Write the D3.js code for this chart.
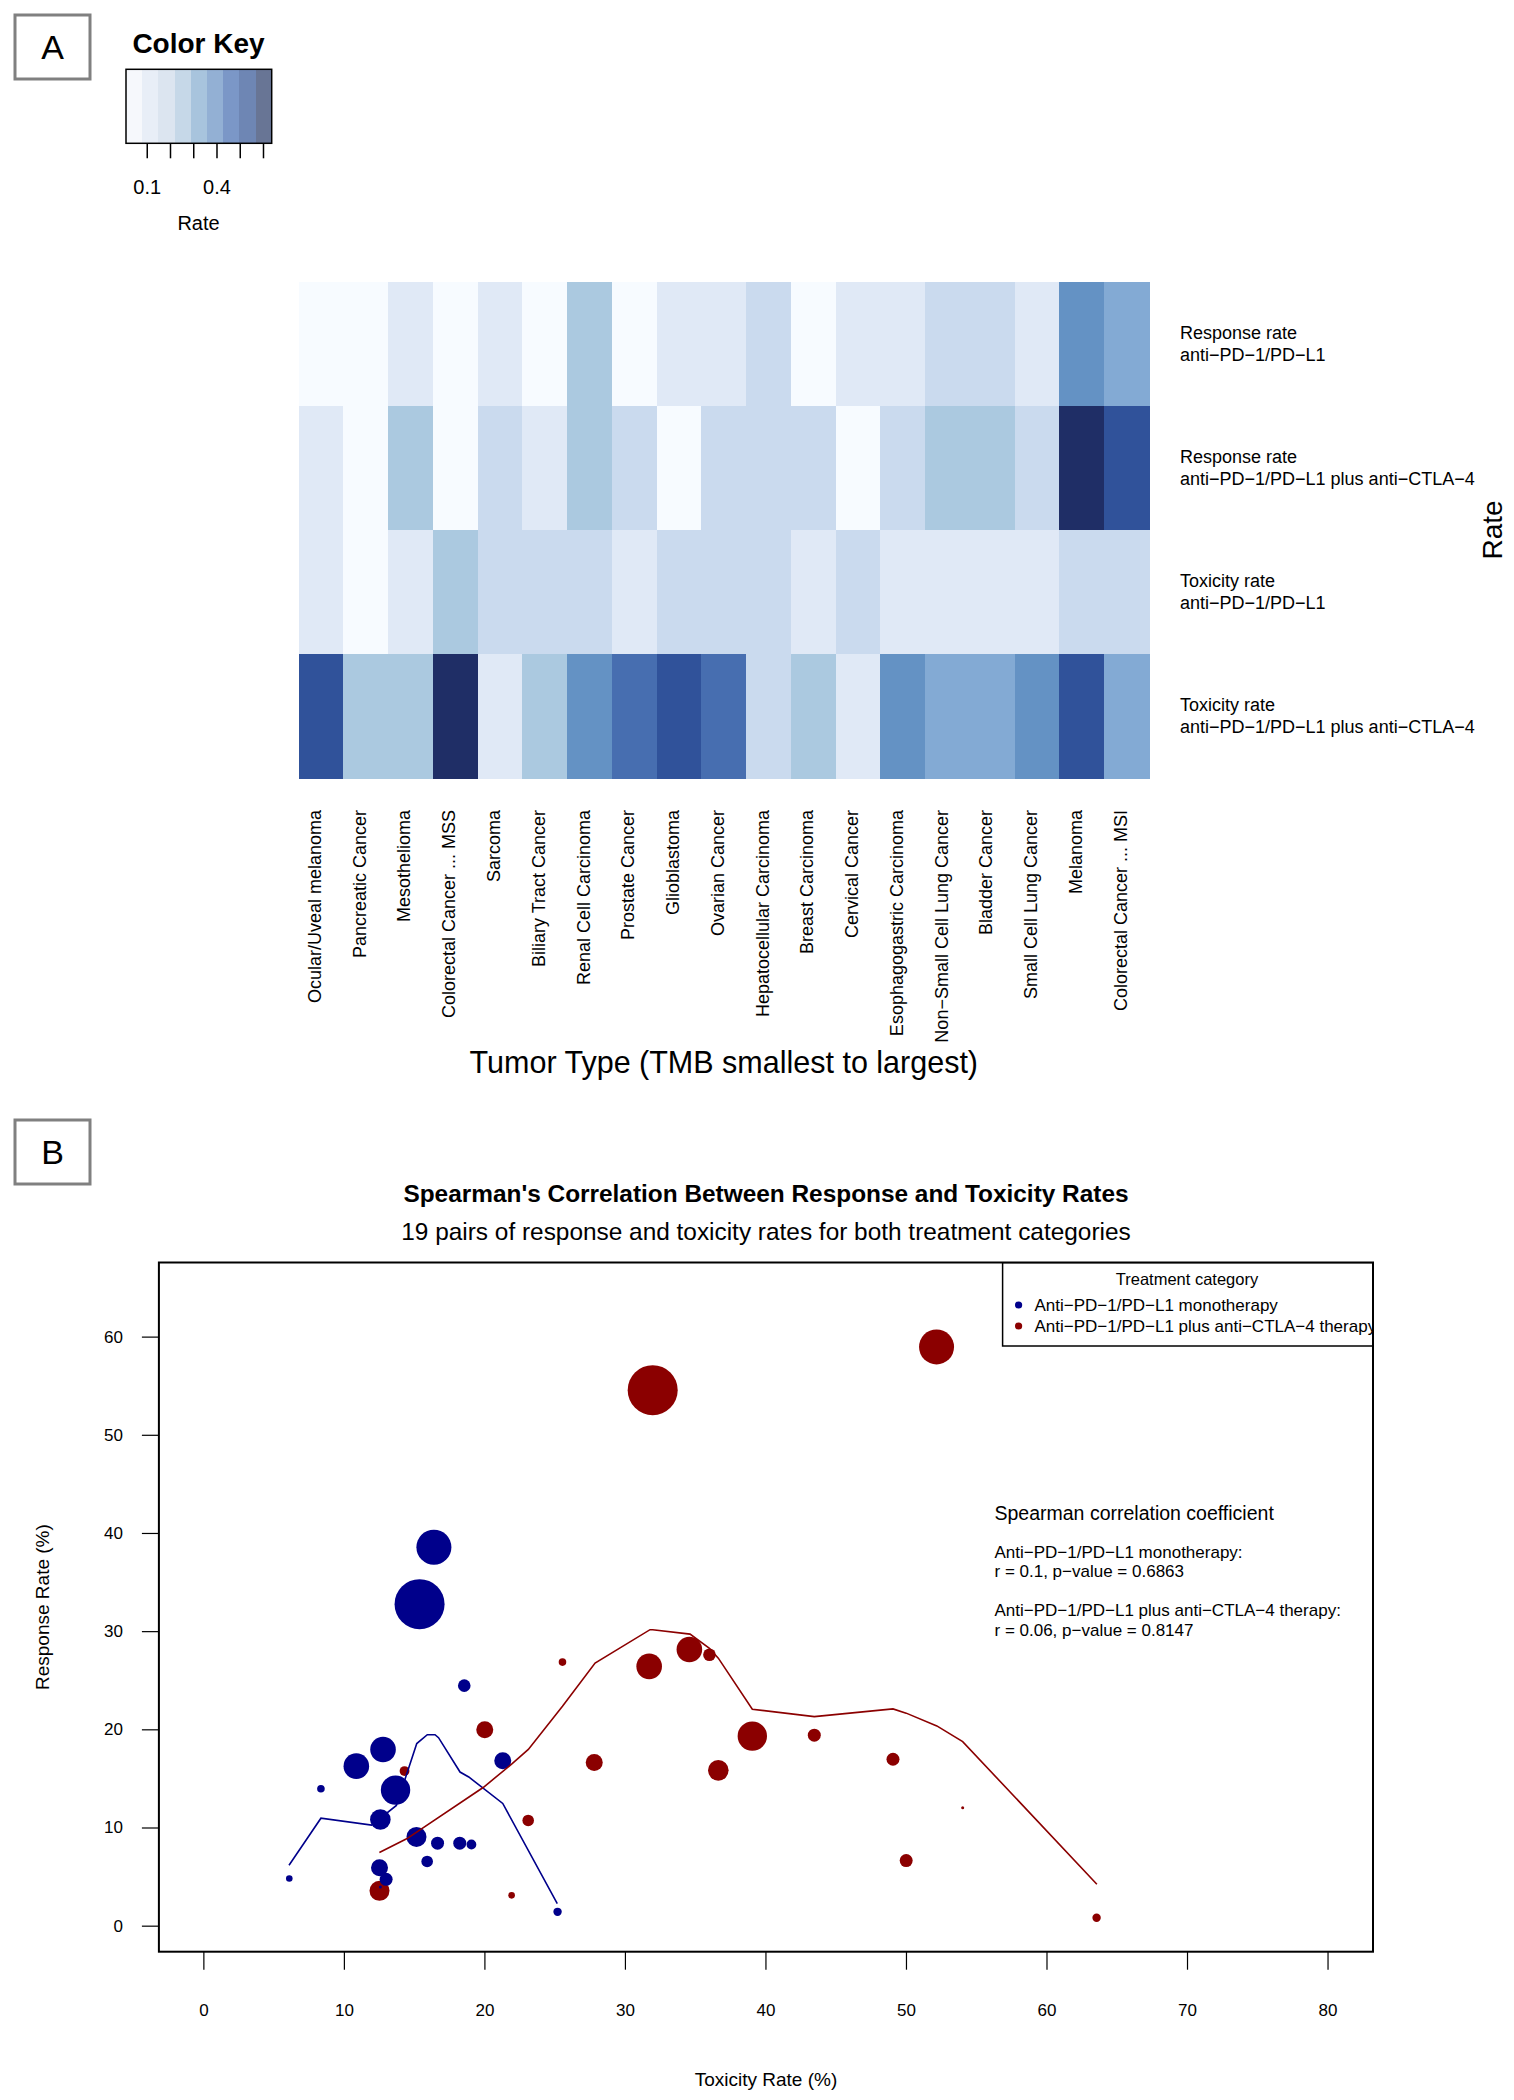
<!DOCTYPE html>
<html>
<head>
<meta charset="utf-8">
<script src="https://cdn.jsdelivr.net/npm/d3@7"></script>
<style>
  html, body { margin: 0; padding: 0; background: #fff; }
  svg { display: block; font-family: "Liberation Sans", Arial, Helvetica, sans-serif; }
</style>
</head>
<body>
<svg id="chart" width="1514" height="2100"></svg>
<script>
// ---------------- DATA ----------------
const tumors = ["Ocular/Uveal melanoma","Pancreatic Cancer","Mesothelioma","Colorectal Cancer ... MSS","Sarcoma",
  "Biliary Tract Cancer","Renal Cell Carcinoma","Prostate Cancer","Glioblastoma","Ovarian Cancer",
  "Hepatocellular Carcinoma","Breast Carcinoma","Cervical Cancer","Esophagogastric Carcinoma",
  "Non\u2212Small Cell Lung Cancer","Bladder Cancer","Small Cell Lung Cancer","Melanoma","Colorectal Cancer ... MSI"];
// rates in percent, per tumor type (order as above)
const respMono  = [4.0, 4.86, 14.0, 1.46, 8.32, 6.59, 24.5, 4.77, 8.45, 8.45, 16.86, 5.95, 9.09, 10.87, 18.0, 16.3, 13.86, 38.6, 32.8];
const toxMono   = [12.56, 6.08, 8.33, 25.17, 19.04, 15.89, 18.53, 12.97, 16.63, 18.21, 21.27, 12.5, 15.13, 12.56, 12.75, 10.85, 13.64, 16.37, 15.35];
const respCombo = [12.05, 3.14, 26.9, 0.86, 15.8, 10.77, 27.64, 19.45, 6.68, 17.0, 20.0, 16.68, 3.6, 15.87, 28.18, 26.46, 19.36, 59.0, 54.6];
const toxCombo  = [54.0, 21.9, 25.52, 63.53, 14.28, 23.08, 35.98, 43.44, 49.98, 49.04, 19.99, 27.78, 12.5, 36.61, 34.55, 31.69, 39.03, 52.14, 31.94];
// relative TMB score (drives point size in panel B)
const tmbScore  = [0.3, 0.66, 0.76, 0.84, 0.98, 1.16, 1.26, 1.3, 1.3, 1.3, 1.7, 1.7, 2.0, 2.06, 2.56, 2.56, 2.94, 3.5, 5.0];

const rowLabels = [
  ["Response rate", "anti\u2212PD\u22121/PD\u2212L1"],
  ["Response rate", "anti\u2212PD\u22121/PD\u2212L1 plus anti\u2212CTLA\u22124"],
  ["Toxicity rate", "anti\u2212PD\u22121/PD\u2212L1"],
  ["Toxicity rate", "anti\u2212PD\u22121/PD\u2212L1 plus anti\u2212CTLA\u22124"]
];
const keyTicks = [0.1, 0.2, 0.3, 0.4, 0.5, 0.6];
const keyTickLabels = [0.1, 0.4];

// smoothed (lowess) curves: [toxicity, response]
const monoSmooth = [[6.06,6.2],[8.33,11.0],[11.94,10.3],[13.7,12.3],[15.15,18.6],[15.9,19.5],[16.45,19.5],[16.7,19.2],[18.23,15.7],[18.85,15.2],[21.27,12.5],[25.15,2.3]];
const comboSmooth = [[12.49,7.5],[14.43,8.9],[19.9,14.15],[21.9,16.5],[23.09,18.0],[25.52,22.4],[27.84,26.8],[31.75,30.2],[31.94,30.2],[34.6,29.75],[35.98,28.3],[36.61,27.3],[39.03,22.1],[43.44,21.34],[49.04,22.13],[49.98,21.7],[52.16,20.4],[54.0,18.8],[63.55,4.27]];

const xTicks = [0,10,20,30,40,50,60,70,80];
const yTicks = [0,10,20,30,40,50,60];

// ---------------- STYLE ----------------
const heatColors = ["#F7FBFF","#E0E9F6","#CADAEE","#ABC9E0","#83AAD4","#6492C4","#476EB0","#30529A","#1F2E66"];
const keyColors  = ["#F6F8FC","#E8EEF7","#DCE5F0","#C6D8E8","#A8C4DD","#93B0D4","#7B97C7","#6E86B4","#687595"];
const BLUE = "#00008B", RED = "#8B0000";

const svg = d3.select("#chart");
svg.append("rect").attr("width",1514).attr("height",2100).attr("fill","#fff");

// panel label boxes
function panelLabel(x, y, w, h, t) {
  svg.append("rect").attr("x",x).attr("y",y).attr("width",w).attr("height",h)
    .attr("fill","#fff").attr("stroke","#808080").attr("stroke-width",3);
  svg.append("text").attr("x",x+w/2).attr("y",y+h/2).attr("text-anchor","middle")
    .attr("dominant-baseline","central").attr("font-size",34).text(t);
}
panelLabel(15, 15, 75, 64, "A");
panelLabel(15, 1120, 75, 64, "B");

// ---------------- PANEL A: heatmap ----------------
const rows = [respMono, respCombo, toxMono, toxCombo];
const allVals = rows.flat().map(v => v/100);
const colorQ = d3.scaleQuantize().domain(d3.extent(allVals)).range(heatColors);

const xb = d3.scaleBand().domain(tumors).range([298.6, 1149]);
const yb = d3.scaleBand().domain(d3.range(4)).range([282, 778]);

const cells = [];
rows.forEach((r, ri) => r.forEach((v, ci) => cells.push({ri, t: tumors[ci], v: v/100})));
svg.append("g").selectAll("rect").data(cells).join("rect")
  .attr("x", d => xb(d.t)).attr("y", d => yb(d.ri))
  .attr("width", xb.bandwidth()+0.5).attr("height", yb.bandwidth()+0.5)
  .attr("fill", d => colorQ(d.v)).attr("shape-rendering","crispEdges");

// row labels
rowLabels.forEach((lab, i) => {
  const cy = yb(i) + yb.bandwidth()/2;
  const t = svg.append("text").attr("x", 1180).attr("font-size", 18);
  t.append("tspan").attr("x",1180).attr("y", cy-11).attr("dominant-baseline","central").text(lab[0]);
  t.append("tspan").attr("x",1180).attr("y", cy+11).attr("dominant-baseline","central").text(lab[1]);
});
svg.append("text").attr("transform","translate(1492,530) rotate(-90)")
  .attr("text-anchor","middle").attr("dominant-baseline","central").attr("font-size",28).text("Rate");

// column labels
svg.append("g").selectAll("text").data(tumors).join("text")
  .attr("transform", d => `translate(${xb(d)+xb.bandwidth()/2-6},810) rotate(-90)`)
  .attr("text-anchor","end").attr("dominant-baseline","central").attr("font-size",18).text(d => d);
svg.append("text").attr("x",723.8).attr("y",1062).attr("text-anchor","middle")
  .attr("dominant-baseline","central").attr("font-size",30.5).text("Tumor Type (TMB smallest to largest)");

// color key
const kx = d3.scaleLinear().domain(d3.extent(allVals)).range([126, 271.7]);
const kStep = (kx.domain()[1]-kx.domain()[0])/keyColors.length;
svg.append("g").selectAll("rect").data(keyColors).join("rect")
  .attr("x", (d,i) => kx(kx.domain()[0]+i*kStep)).attr("y",69.3)
  .attr("width", (kx.range()[1]-kx.range()[0])/keyColors.length+0.5).attr("height",74)
  .attr("fill", d => d).attr("shape-rendering","crispEdges");
svg.append("rect").attr("x",126).attr("y",69.3).attr("width",145.7).attr("height",74)
  .attr("fill","none").attr("stroke","#000").attr("stroke-width",1.5);
svg.append("g").selectAll("line").data(keyTicks).join("line")
  .attr("x1", d => kx(d)).attr("x2", d => kx(d)).attr("y1",143.3).attr("y2",158.3)
  .attr("stroke","#000").attr("stroke-width",1.5);
svg.append("g").selectAll("text").data(keyTickLabels).join("text")
  .attr("x", d => kx(d)).attr("y",187).attr("text-anchor","middle").attr("dominant-baseline","central")
  .attr("font-size",20).text(d => d3.format(".1f")(d));
svg.append("text").attr("x",198.5).attr("y",222.5).attr("text-anchor","middle").attr("dominant-baseline","central")
  .attr("font-size",20).text("Rate");
svg.append("text").attr("x",198.5).attr("y",43).attr("text-anchor","middle").attr("dominant-baseline","central")
  .attr("font-size",28).attr("font-weight","bold").text("Color Key");

// ---------------- PANEL B: scatter ----------------
const L = 158.9, R = 1373, T = 1262.5, B = 1951.7;
const x = d3.scaleLinear().domain([-3.2, 83.2]).range([L, R]);
const y = d3.scaleLinear().domain([-2.6, 67.6]).range([B, T]);
const rs = d3.scaleLinear().domain([0, 1]).range([0, 5]);

svg.append("text").attr("x",766).attr("y",1193).attr("text-anchor","middle").attr("dominant-baseline","central")
  .attr("font-size",24.4).attr("font-weight","bold").text("Spearman's Correlation Between Response and Toxicity Rates");
svg.append("text").attr("x",766).attr("y",1231.5).attr("text-anchor","middle").attr("dominant-baseline","central")
  .attr("font-size",24.4).text("19 pairs of response and toxicity rates for both treatment categories");

svg.append("defs").append("clipPath").attr("id","plotclip")
  .append("rect").attr("x",L).attr("y",T).attr("width",R-L).attr("height",B-T);

// axes ticks
svg.append("g").selectAll("line").data(xTicks).join("line")
  .attr("x1", d => x(d)).attr("x2", d => x(d)).attr("y1", B).attr("y2", B+18)
  .attr("stroke","#000").attr("stroke-width",1.2);
svg.append("g").selectAll("text").data(xTicks).join("text")
  .attr("x", d => x(d)).attr("y", 2010).attr("text-anchor","middle").attr("dominant-baseline","central")
  .attr("font-size",17).text(d => d);
svg.append("g").selectAll("line").data(yTicks).join("line")
  .attr("x1", L-17).attr("x2", L).attr("y1", d => y(d)).attr("y2", d => y(d))
  .attr("stroke","#000").attr("stroke-width",1.2);
svg.append("g").selectAll("text").data(yTicks).join("text")
  .attr("x", 123).attr("y", d => y(d)).attr("text-anchor","end").attr("dominant-baseline","central")
  .attr("font-size",17).text(d => d);
svg.append("text").attr("x",766).attr("y",2079).attr("text-anchor","middle").attr("dominant-baseline","central")
  .attr("font-size",19).text("Toxicity Rate (%)");
svg.append("text").attr("transform",`translate(42,${(T+B)/2}) rotate(-90)`).attr("text-anchor","middle")
  .attr("dominant-baseline","central").attr("font-size",19).text("Response Rate (%)");

const plot = svg.append("g").attr("clip-path","url(#plotclip)");
const comboPts = tumors.map((t,i) => ({x: toxCombo[i], y: respCombo[i], s: tmbScore[i]}));
const monoPts = tumors.map((t,i) => ({x: toxMono[i], y: respMono[i], s: tmbScore[i]}));
plot.append("g").selectAll("circle").data(comboPts).join("circle")
  .attr("cx", d => x(d.x)).attr("cy", d => y(d.y)).attr("r", d => rs(d.s)).attr("fill", RED);
plot.append("g").selectAll("circle").data(monoPts).join("circle")
  .attr("cx", d => x(d.x)).attr("cy", d => y(d.y)).attr("r", d => rs(d.s)).attr("fill", BLUE);
const line = d3.line().x(d => x(d[0])).y(d => y(d[1]));
plot.append("path").attr("d", line(monoSmooth)).attr("fill","none").attr("stroke",BLUE).attr("stroke-width",1.6);
plot.append("path").attr("d", line(comboSmooth)).attr("fill","none").attr("stroke",RED).attr("stroke-width",1.6);

// legend (clipped by plot region)
const lg = plot.append("g");
lg.append("rect").attr("x",1002.6).attr("y",T).attr("width",R-1002.6).attr("height",1346-T)
  .attr("fill","#fff").attr("stroke","#000").attr("stroke-width",1.5);
lg.append("text").attr("x",1187).attr("y",1279).attr("text-anchor","middle").attr("dominant-baseline","central")
  .attr("font-size",16.5).text("Treatment category");
const legItems = [["Anti\u2212PD\u22121/PD\u2212L1 monotherapy", BLUE], ["Anti\u2212PD\u22121/PD\u2212L1 plus anti\u2212CTLA\u22124 therapy", RED]];
legItems.forEach((it, i) => {
  lg.append("circle").attr("cx",1018.6).attr("cy",1305+i*21).attr("r",3.6).attr("fill",it[1]);
  lg.append("text").attr("x",1034.5).attr("y",1305+i*21).attr("dominant-baseline","central")
    .attr("font-size",17).text(it[0]);
});

// Spearman annotation
const ann = [
  {t:"Spearman correlation coefficient", y:1512.5, s:19.5},
  {t:"Anti\u2212PD\u22121/PD\u2212L1 monotherapy:", y:1552, s:17},
  {t:"r = 0.1, p\u2212value = 0.6863", y:1571.5, s:17},
  {t:"Anti\u2212PD\u22121/PD\u2212L1 plus anti\u2212CTLA\u22124 therapy:", y:1610.5, s:17},
  {t:"r = 0.06, p\u2212value = 0.8147", y:1630, s:17}
];
svg.append("g").selectAll("text").data(ann).join("text")
  .attr("x",994.5).attr("y", d => d.y).attr("dominant-baseline","central")
  .attr("font-size", d => d.s).text(d => d.t);

// plot box
svg.append("rect").attr("x",L).attr("y",T).attr("width",R-L).attr("height",B-T)
  .attr("fill","none").attr("stroke","#000").attr("stroke-width",2);
</script>
</body>
</html>
